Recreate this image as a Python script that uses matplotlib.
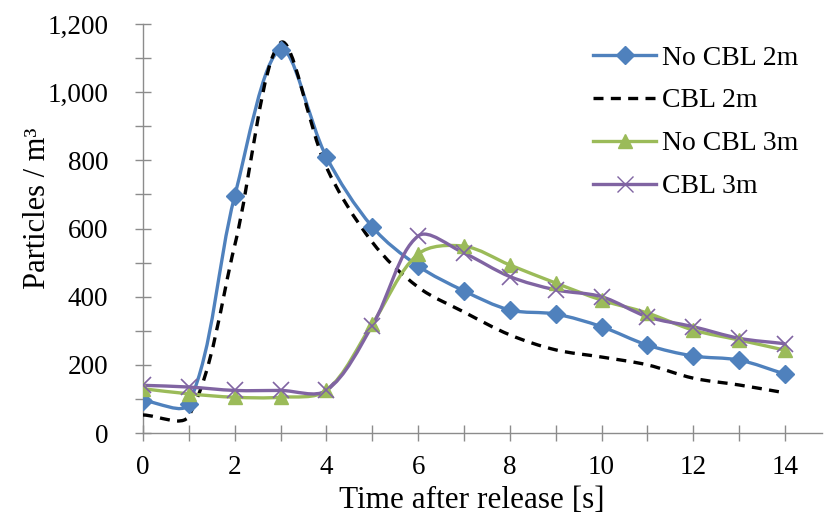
import matplotlib
matplotlib.use('Agg')
import matplotlib.pyplot as plt
from matplotlib.path import Path
from matplotlib.patches import PathPatch
from matplotlib.lines import Line2D
import numpy as np

plt.rcParams['font.family'] = ['Liberation Serif', 'DejaVu Serif']

time_s = [0, 1, 2, 3, 4, 5, 6, 7, 8, 9, 10, 11, 12, 13, 14]
no_cbl_2m = [95, 86, 695, 1125, 810, 605, 490, 417, 361, 349, 312, 258, 226, 214, 173]
cbl_2m = [53, 50, 550, 1145, 780, 560, 428, 355, 288, 244, 223, 200, 161, 141, 118]
no_cbl_3m = [130, 115, 105, 105, 125, 320, 525, 548, 493, 440, 390, 352, 302, 273, 243]
cbl_3m = [140, 135, 125, 125, 125, 315, 578, 528, 459, 420, 400, 341, 312, 278, 262]

x_ticks = [0, 2, 4, 6, 8, 10, 12, 14]
y_ticks = [0, 200, 400, 600, 800, 1000, 1200]

blue = '#4F81BD'
green = '#9BBB59'
purple = '#8064A2'


def smooth_path(ax, xs, ys, tension=1.0 / 3):
	# Excel-like smoothed line: Bezier segments, tangents scaled by chord length on screen
	pts = ax.transData.transform(np.column_stack([xs, ys]).astype(float))
	n = len(pts)
	verts = [pts[0]]
	codes = [Path.MOVETO]
	for i in range(n - 1):
		p0 = pts[i - 1] if i > 0 else pts[i]
		p1 = pts[i]
		p2 = pts[i + 1]
		p3 = pts[i + 2] if i + 2 < n else pts[i + 1]
		d01 = np.hypot(*(p1 - p0))
		d12 = np.hypot(*(p2 - p1))
		d23 = np.hypot(*(p3 - p2))
		c1 = p1 + (p2 - p0) * (d12 / max(d01 + d12, 1e-9)) * tension
		c2 = p2 - (p3 - p1) * (d12 / max(d12 + d23, 1e-9)) * tension
		verts += [c1, c2, p2]
		codes += [Path.CURVE4] * 3
	inv = ax.transData.inverted()
	return Path(inv.transform(np.array(verts)), codes)


fig = plt.figure(figsize=(8.25, 5.18), dpi=100)
ax = fig.add_axes([0.1733, 0.164, 0.8227, 0.7897])
ax.set_xlim(0, 14.8)
ax.set_ylim(0, 1200)

lw = 2.4
series = [
	(no_cbl_2m, blue, 'D', 9, 'solid', 'No CBL 2m'),
	(cbl_2m, 'black', None, 0, (0, (3.0, 2.2)), 'CBL 2m'),
	(no_cbl_3m, green, '^', 10, 'solid', 'No CBL 3m'),
	(cbl_3m, purple, 'x', 11, 'solid', 'CBL 3m'),
]
handles = []
for ys, color, marker, ms, ls, label in series:
	patch = PathPatch(smooth_path(ax, time_s, ys), fill=False, edgecolor=color,
		linewidth=lw, linestyle=ls, capstyle='butt', zorder=3)
	ax.add_patch(patch)
	if marker:
		ax.plot(time_s, ys, linestyle='none', marker=marker, markersize=ms,
			color=color, markeredgewidth=1.0 if marker != 'x' else 1.2, zorder=4)
	handles.append(Line2D([], [], color=color, linewidth=lw, linestyle=ls,
		marker=marker if marker else None, markersize=ms))

ax.set_xticks(x_ticks)
ax.set_xticks(time_s, minor=True)
ax.set_yticks(y_ticks)
ax.set_yticks([100, 300, 500, 700, 900, 1100], minor=True)
ax.set_yticklabels(['{:,}'.format(v) for v in y_ticks])

for s in ['top', 'right']:
	ax.spines[s].set_visible(False)
for s in ['left', 'bottom']:
	ax.spines[s].set_color('#8C8C8C')
	ax.spines[s].set_linewidth(1.0)

ax.tick_params(which='both', direction='inout', length=12, width=1.0,
	color='#8C8C8C', labelsize=19.5)
ax.tick_params(axis='y', pad=19)
ax.tick_params(axis='x', pad=10)

ax.set_xlabel('Time after release [s]', fontsize=22.5)
ax.xaxis.set_label_coords(0.4845, -0.13)
ax.set_ylabel('Particles / m³', fontsize=22)
ax.yaxis.set_label_coords(-0.134, 0.55)

ax.legend(handles, [s[5] for s in series], loc='upper left',
	bbox_to_anchor=(0.719, 0.913), bbox_transform=fig.transFigure,
	frameon=False, fontsize=20, borderpad=0, borderaxespad=0,
	handlelength=2.27, handletextpad=0.2, labelspacing=0.63)

fig.savefig('out.png', dpi=100)
